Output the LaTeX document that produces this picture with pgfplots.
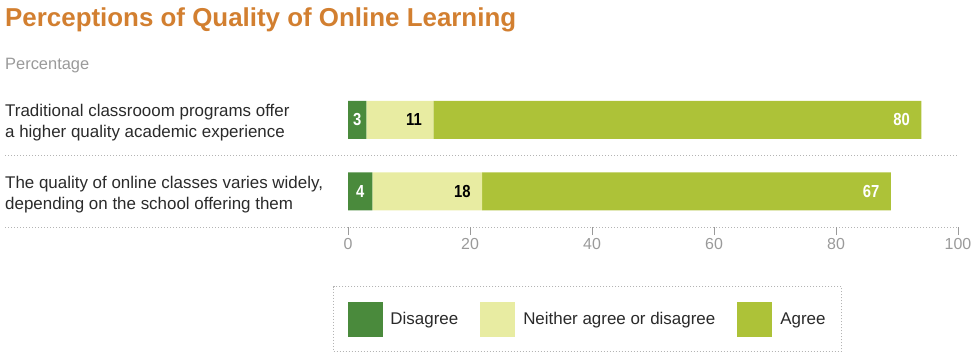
\documentclass[border=0pt]{standalone}
\usepackage{pgfplots}
\pgfplotsset{compat=1.18}
\usepackage{fontspec}
\setmainfont{Liberation Sans}
\newfontfamily\condfont[FakeStretch=0.85]{Liberation Sans}
\definecolor{cdis}{HTML}{4A8A3C}
\definecolor{cnei}{HTML}{E8ECA2}
\definecolor{cagr}{HTML}{ADC238}
\definecolor{ctitle}{HTML}{D27F30}
\definecolor{cgray}{HTML}{9A9A9A}
\definecolor{cdot}{HTML}{B4B4B4}
\definecolor{ctext}{HTML}{2A2A2A}
\pgfplotsset{sq legend/.style={legend image code/.code={\fill[##1] (0bp,-17.5bp) rectangle (35bp,17.5bp);}}}
\newcommand{\valfont}{\condfont\bfseries\fontsize{17.5}{17.5}\selectfont}
\newcommand{\lblfont}{\fontsize{17}{20}\selectfont}
\begin{document}
\begin{tikzpicture}[x=1bp,y=1bp]
\path[use as bounding box] (0,0) rectangle (978,362);
\node[anchor=base west, inner sep=0, font=\fontsize{26}{30}\selectfont\bfseries, text=ctitle] at (5,336) {Perceptions of Quality of Online Learning};
\node[anchor=base west, inner sep=0, font=\fontsize{16.5}{20}\selectfont, text=cgray] at (5,293) {Percentage};
\node[anchor=base west, inner sep=0, font=\lblfont, text=ctext] at (5,246) {Traditional classrooom programs offer};
\node[anchor=base west, inner sep=0, font=\lblfont, text=ctext] at (5,225) {a higher quality academic experience};
\node[anchor=base west, inner sep=0, font=\lblfont, text=ctext] at (5,174) {The quality of online classes varies widely,};
\node[anchor=base west, inner sep=0, font=\lblfont, text=ctext] at (5,153) {depending on the school offering them};
\draw[cdot, line width=1bp, dash pattern=on 1bp off 2bp] (5,206.5) -- (958,206.5);
\draw[cdot, line width=1bp, dash pattern=on 1bp off 2bp] (5,135) -- (958,135);
\begin{axis}[
  at={(348bp,135bp)}, anchor=south west, scale only axis,
  width=610bp, height=143bp,
  xbar stacked, bar width=38bp,
  xmin=0, xmax=100, ymin=-0.5, ymax=1.5,
  hide y axis,
  axis x line*=bottom, x axis line style={draw=none},
  xtick={0,20,40,60,80,100}, ytick=\empty,
  tick align=outside, major tick length=8bp,
  x tick style={cgray, line width=0.8bp},
  x tick label style={font=\fontsize{16}{16}\selectfont, text=cgray},
  /pgf/number format/assume math mode=true,
  clip=false,
  legend columns=3,
  legend cell align=left,
  legend style={at={(-0.0246,-0.4126)}, anchor=north west, draw=cdot,
    dash pattern=on 1bp off 2bp, line width=1bp,
    inner xsep=14bp, inner ysep=15bp,
    font=\fontsize{17}{17}\selectfont, text=ctext,
    /tikz/every odd column/.append style={column sep=6bp},
    /tikz/every even column/.append style={column sep=20bp}},
]
\addplot[fill=cdis, draw=none, sq legend, point meta=rawx, nodes near coords,
  every node near coord/.append style={anchor=center, text=white, font=\valfont}]
  coordinates {(3,1) (4,0)};
\addplot[fill=cnei, draw=none, sq legend, point meta=rawx, nodes near coords,
  visualization depends on={rawx \as \rawx},
  every node near coord/.append style={anchor=east, xshift={\rawx*3.05bp-8bp}, text=black, font=\valfont}]
  coordinates {(11,1) (18,0)};
\addplot[fill=cagr, draw=none, sq legend, point meta=rawx, nodes near coords,
  visualization depends on={rawx \as \rawx},
  every node near coord/.append style={anchor=east, xshift={\rawx*3.05bp-8bp}, text=white, font=\valfont}]
  coordinates {(80,1) (67,0)};
\legend{Disagree, Neither agree or disagree, Agree}
\end{axis}
\end{tikzpicture}
\end{document}
